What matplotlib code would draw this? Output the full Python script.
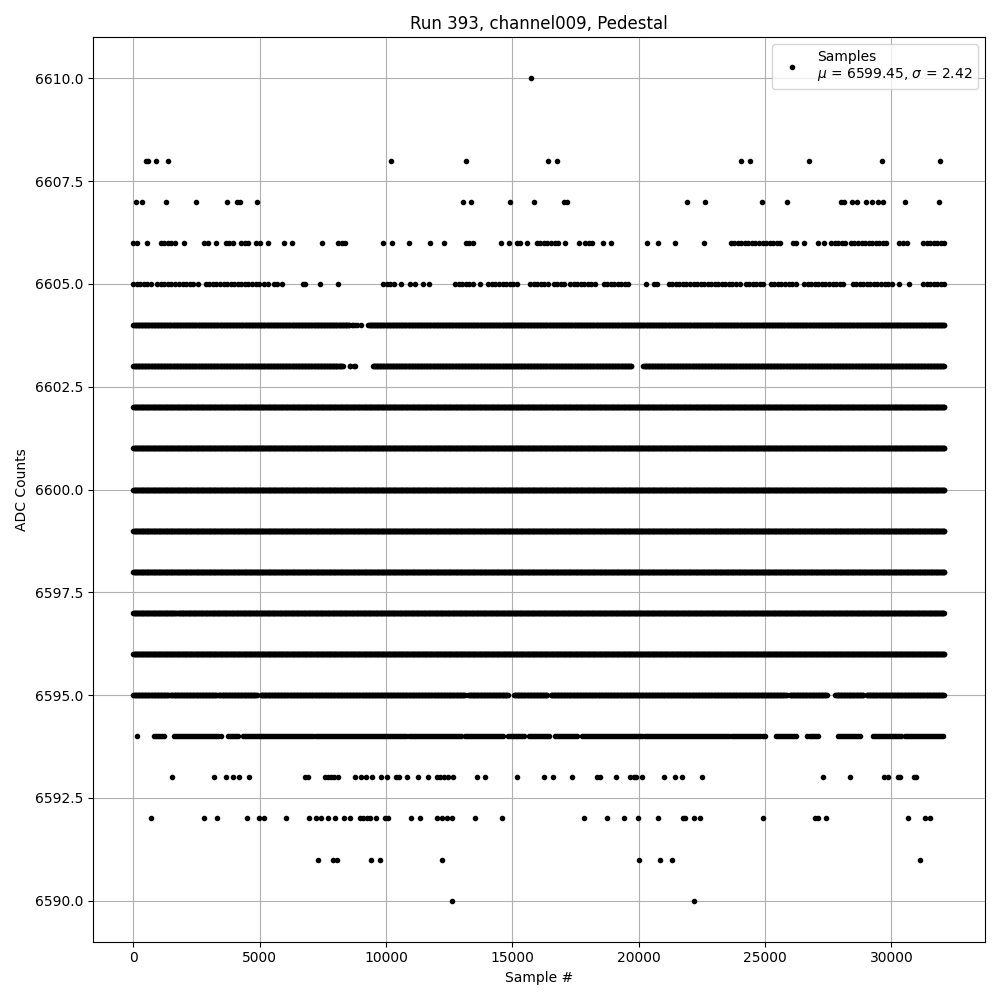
import matplotlib
matplotlib.use("Agg")
import matplotlib.pyplot as plt
import numpy as np

# run / channel info
title = "Run 393, channel009, Pedestal"
mean_adc = 6599.45
sigma_adc = 2.42
last_sample = 32100

# levels that are filled over the whole run
full_levels = [6596, 6598, 6599, 6600, 6601, 6602]

# (start, end) sample runs, per ADC level
runs_6604 = [(0, 8550), (8650, 8680), (8780, 8800), (9300, last_sample)]
runs_6603 = [(0, 8300), (8560, 8600), (8750, 8790), (9480, 19720), (20180, last_sample)]
runs_6597 = [(0, 1700), (1760, last_sample)]
runs_6595 = [(0, 1420), (1480, 3310), (3380, 4900), (5050, 13120), (13260, 14820),
             (15060, 16400), (16520, 25850), (25980, 27450), (27780, 28900), (29020, last_sample)]
runs_6605 = [(0, 820), (950, 1810), (1950, 2410), (2870, 4790), (4850, 5050), (9880, 10350),
             (12730, 13450), (14050, 15240), (15700, 16500), (16630, 17150), (17290, 18350),
             (18610, 19670), (20600, 20860), (21190, 24030), (24230, 25030), (25230, 26220),
             (26550, 28140), (28470, 30050), (31250, last_sample)]
runs_6606 = [(0, 230), (1090, 1680), (3660, 3970), (4260, 4660), (8100, 8430), (13150, 13520),
             (15180, 15370), (15970, 16890), (17880, 18280), (23640, 25690), (26090, 26280),
             (27610, 28200), (28400, 29920), (30320, 30650), (31250, last_sample)]
runs_6594 = [(820, 1280), (1610, 3470), (3730, 4130), (4330, 12990), (13120, 14710),
             (14840, 15500), (15640, 16490), (16690, 17620), (17750, 23640), (23700, 25030),
             (25420, 26280), (26680, 27140), (27870, 28800), (29260, 30390), (30520, last_sample)]

# isolated samples, per ADC level
adc_6610 = [15750]
adc_6608 = [490, 595, 913, 1389, 10200, 13177, 16428, 16785, 24048, 24405, 26747, 29644, 31907]
adc_6607 = [106, 357, 1310, 2461, 3691, 4101, 4234, 4882, 13058, 13376, 14924, 15837, 17050,
            17150, 21905, 22620, 24882, 25874, 28004, 28110, 28427, 28639, 29009, 29247,
            29459, 29684, 30557, 31867]
adc_6606 = [556, 2024, 2805, 2937, 3255, 4855, 5014, 5318, 5953, 6271, 7462, 9883, 10240,
            10915, 11748, 12291, 14553, 14884, 15572, 17089, 17619, 18571, 18902, 20318,
            20781, 21429, 22580, 26549, 27078, 27343]
adc_6605 = [2540, 5186, 5345, 5583, 5675, 5887, 6707, 6800, 7382, 8097, 10584, 10941, 11166,
            11470, 11695, 13720, 20291, 30320, 30716]
adc_6604 = [8860, 9000]
adc_6594 = [159]
adc_6593 = [1548, 3175, 3665, 3929, 4167, 4591, 6774, 6906, 7570, 7700, 7830, 7960, 8100,
            8758, 9023, 9221, 9460, 9790, 10041, 10385, 10504, 10835, 11272, 11669, 12000,
            12150, 12300, 12450, 12660, 13587, 13918, 15175, 16233, 16600, 17380, 18346,
            18479, 19087, 19670, 19800, 19900, 20130, 20992, 21429, 21720, 22500, 27303,
            28374, 29697, 29883, 30253, 30359, 30888, 30967]
adc_6592 = [688, 2778, 3294, 4485, 4988, 5160, 6033, 6946, 7237, 7435, 7700, 7964, 8335, 8560,
            8960, 9100, 9230, 9360, 9620, 9949, 10081, 11007, 11338, 12000, 12200, 12400,
            12600, 13521, 14606, 17817, 18743, 19405, 19960, 20754, 21760, 21826, 22183,
            22421, 24922, 26985, 27078, 27422, 30676, 31338, 31510]
adc_6591 = [7296, 7904, 8062, 9413, 9774, 12228, 20020, 20831, 21304, 31145]
adc_6590 = [12611, 22182]

# build the sample arrays
xs, ys = [], []
for lvl in full_levels:
    s = np.arange(0, last_sample + 1, 25)
    xs.append(s)
    ys.append(np.full(len(s), lvl))
for lvl, runs, step in [(6604, runs_6604, 30), (6603, runs_6603, 30), (6597, runs_6597, 25),
                        (6595, runs_6595, 30), (6605, runs_6605, 140), (6606, runs_6606, 140),
                        (6594, runs_6594, 80)]:
    for a, b in runs:
        s = np.arange(a, b + 1, step)
        xs.append(s)
        ys.append(np.full(len(s), lvl))
for lvl, pts in [(6610, adc_6610), (6608, adc_6608), (6607, adc_6607), (6606, adc_6606),
                 (6605, adc_6605), (6604, adc_6604), (6594, adc_6594), (6593, adc_6593),
                 (6592, adc_6592), (6591, adc_6591), (6590, adc_6590)]:
    xs.append(np.array(pts))
    ys.append(np.full(len(pts), lvl))
x = np.concatenate(xs)
y = np.concatenate(ys)

fig, ax = plt.subplots(figsize=(10, 10), dpi=100)
ax.plot(x, y, 'k.', label="Samples\n$\\mu$ = %.2f, $\\sigma$ = %.2f" % (mean_adc, sigma_adc))
ax.set_title(title)
ax.set_xlabel("Sample #")
ax.set_ylabel("ADC Counts")
ax.grid(True)
ax.legend(loc="upper right")
fig.tight_layout()
fig.savefig("out.png")
